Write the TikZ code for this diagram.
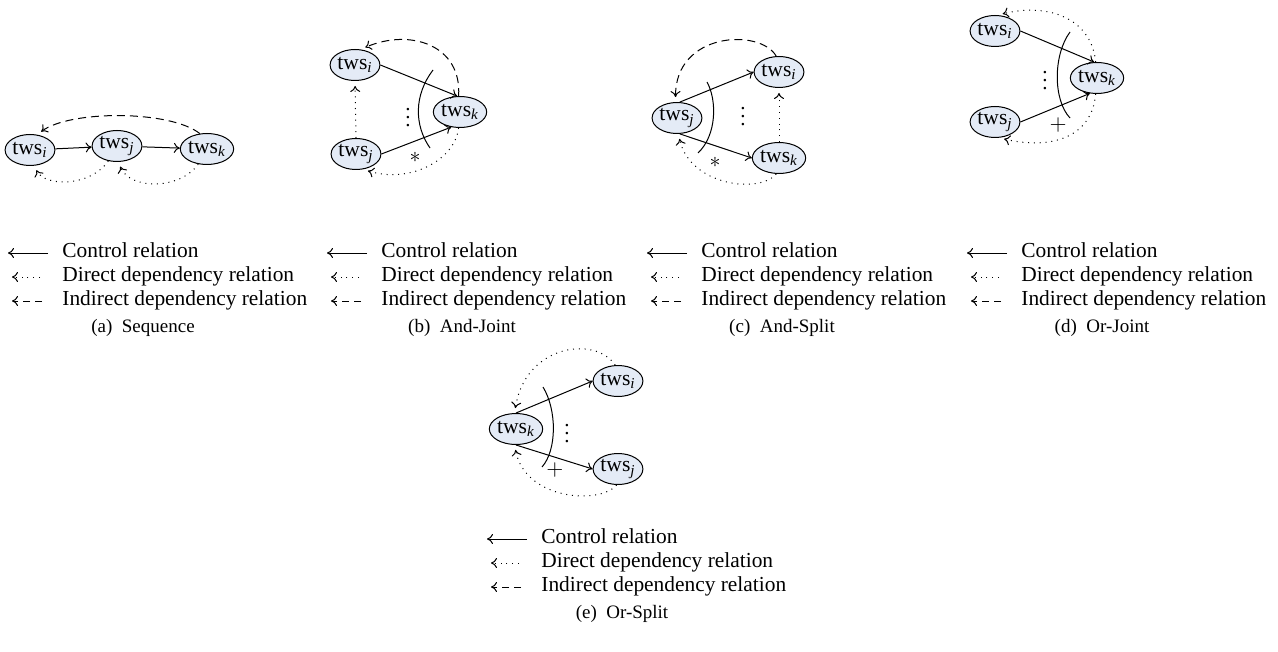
\documentclass[tikz,border=0pt]{standalone}
\usepackage{fontspec}
\setmainfont{Liberation Serif}
\usetikzlibrary{arrows.meta,shapes.geometric}
\definecolor{nodefill}{RGB}{228,235,246}
\newcommand\twsl[1]{tws\textsubscript{\itshape #1}}
\newcommand\legendblock[4]{% #1 prefix, #2 x of text, #3 y of first row, #4 caption
  \coordinate (#1a1) at (#2-14,#3); \coordinate (#1a0) at (#2-54,#3);
  \coordinate (#1b1) at (#2-22,#3+24); \coordinate (#1b0) at (#2-50,#3+24);
  \coordinate (#1c1) at (#2-20,#3+48); \coordinate (#1c0) at (#2-50,#3+48);
  \draw[ctrl] (#1a1) -- (#1a0);
  \draw[dep,shorten >=0pt] (#1b1) -- (#1b0);
  \draw[indep,shorten >=0pt,dash pattern=on 3.5pt off 2.5pt] (#1c1) -- (#1c0);
  \node[lbl] (#1t1) at (#2,#3) {Control relation};
  \node[lbl] (#1t2) at (#2,#3+24) {Direct dependency relation};
  \node[lbl] (#1t3) at (#2,#3+48) {Indirect dependency relation};
  \node[captext] (#1cap) at (#2+81,#3+75) {#4};
}
\begin{document}
\begin{tikzpicture}[x=0.5pt,y=-0.5pt,
  tws/.style={ellipse,draw,line width=0.5pt,fill=nodefill,minimum width=24.5pt,minimum height=15.5pt,inner sep=0pt,font=\fontsize{10.8}{12}\selectfont},
  ctrl/.style={-{To[length=3pt,width=5pt]},line width=0.5pt},
  dep/.style={-{To[length=3pt,width=5pt]},line width=0.5pt,dash pattern=on 0.5pt off 2.4pt,shorten >=2.5pt},
  indep/.style={-{To[length=3pt,width=5pt]},line width=0.5pt,dash pattern=on 4pt off 2.5pt,shorten >=2.5pt},
  brace/.style={line width=0.5pt},
  sym/.style={inner sep=0pt,font=\fontsize{10.5}{12}\selectfont},
  lbl/.style={anchor=mid west,inner sep=0pt,font=\fontsize{10.7}{12}\selectfont},
  captext/.style={anchor=mid,inner sep=0pt,font=\fontsize{9.5}{11}\selectfont},
]
\useasboundingbox (0,0) rectangle (1278,652);

% (a) Sequence
\node[tws] (ai) at (30,150) {\twsl{i}};
\node[tws] (aj) at (117,146) {\twsl{j}};
\node[tws] (ak) at (207,149) {\twsl{k}};
\draw[ctrl] (ai) -- (aj);
\draw[ctrl] (aj) -- (ak);
\draw[indep] (ak.115) .. controls (170,110) and (70,110) .. (ai.65);
\draw[dep] (aj.240) .. controls (90,187) and (45,187) .. (ai.-75);
\draw[dep] (ak.240) .. controls (180,190) and (130,190) .. (aj.-85);
\legendblock{la}{62}{253}{(a)\enspace Sequence}

% (b) And-Joint
\node[tws] (bi) at (355,65) {\twsl{i}};
\node[tws] (bk) at (460,112) {\twsl{k}};
\node[tws] (bj) at (356,154) {\twsl{j}};
\draw[ctrl] (bi.east) -- (bk.100);
\draw[ctrl] (bj.east) -- (bk.240);
\draw[indep] (bk.95) .. controls (462,45) and (410,28) .. (bi.70);
\draw[dep] (bj.north) -- (bi.south);
\draw[dep] (bk.265) .. controls (455,160) and (410,184) .. (bj.-65);
\node[sym] (bdots) at (408,112) {$\vdots$};
\draw[brace] (433,70) .. controls (414,95) and (414,125) .. (430,148);
\node[sym] (bstar) at (415,157) {$\ast$};
\legendblock{lb}{381}{253}{(b)\enspace And-Joint}

% (c) And-Split
\node[tws] (ci) at (779,72) {\twsl{i}};
\node[tws] (cj) at (677,118) {\twsl{j}};
\node[tws] (ck) at (779,158) {\twsl{k}};
\draw[ctrl] (cj.80) -- (ci.west);
\draw[ctrl] (cj.-80) -- (ck.west);
\draw[indep] (ci.100) .. controls (760,28) and (675,32) .. (cj.95);
\draw[dep] (ck.north) -- (ci.south);
\draw[dep] (ck.260) .. controls (760,194) and (690,186) .. (cj.-85);
\node[sym] (cdots) at (743,111) {$\vdots$};
\draw[brace] (707,82) .. controls (717,100) and (717,135) .. (698,153);
\node[sym] (cstar) at (715,162) {$\ast$};
\legendblock{lc}{701}{253}{(c)\enspace And-Split}

% (d) Or-Joint
\node[tws] (di) at (995,31) {\twsl{i}};
\node[tws] (dk) at (1097,78) {\twsl{k}};
\node[tws] (dj) at (995,122) {\twsl{j}};
\draw[ctrl] (di.east) -- (dk.100);
\draw[ctrl] (dj.east) -- (dk.245);
\draw[dep] (dk.95) .. controls (1092,20) and (1050,2) .. (di.80);
\draw[dep] (dk.265) .. controls (1092,138) and (1050,150) .. (dj.-75);
\node[sym] (ddots) at (1045,75) {$\vdots$};
\draw[brace] (1070,32) .. controls (1053,55) and (1053,100) .. (1070,118);
\node[sym] (dplus) at (1058,125) {$+$};
\legendblock{ld}{1021}{253}{(d)\enspace Or-Joint}

% (e) Or-Split
\node[tws] (ek) at (516,429) {\twsl{k}};
\node[tws] (ei) at (618,381) {\twsl{i}};
\node[tws] (ej) at (618,469) {\twsl{j}};
\draw[ctrl] (ek.north) -- (ei.west);
\draw[ctrl] (ek.south) -- (ej.west);
\draw[dep] (ei.100) .. controls (595,335) and (525,345) .. (ek.95);
\draw[dep] (ej.265) .. controls (600,505) and (525,500) .. (ek.-95);
\node[sym] (edots) at (567,428) {$\vdots$};
\draw[brace] (543,387) .. controls (557,410) and (557,450) .. (542,467);
\node[sym] (eplus) at (555,470) {$+$};
\legendblock{le}{541}{539}{(e)\enspace Or-Split}
\end{tikzpicture}
\end{document}
